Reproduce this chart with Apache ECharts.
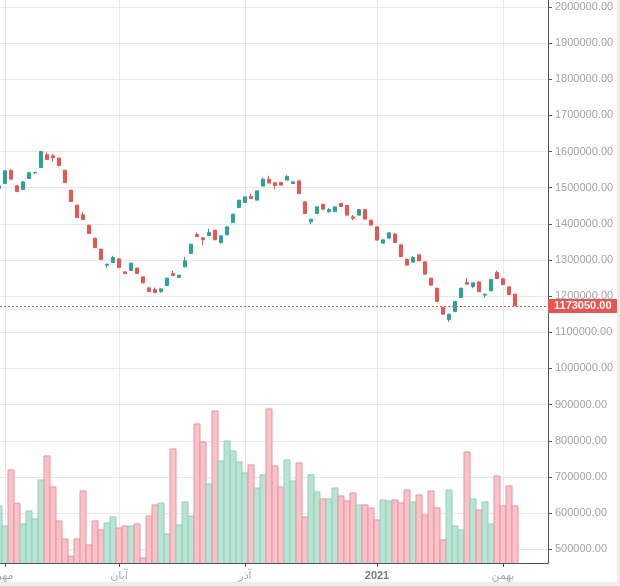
<!DOCTYPE html>
<html><head><meta charset="utf-8">
<script src="https://cdn.jsdelivr.net/npm/echarts@6/dist/echarts.min.js"></script>
<style>
html,body{margin:0;padding:0;background:#ededed;}
#chart{width:617px;height:582px;background:#fff;}
</style></head><body><div id="chart"></div>
<script>
// day k = -1 .. 85
const openP = [1498000,1511500,1548500,1505100,1494900,1525300,1541500,1555700,1590800,1588000,1581700,1548500,1493200,1451700,1424800,1396400,1360400,1330000,1285700,1293000,1303200,1267200,1270800,1277800,1253400,1223000,1218300,1212700,1229300,1262500,1251500,1281000,1318100,1370400,1361200,1367700,1382600,1348300,1369600,1403600,1445000,1458900,1475500,1465500,1504300,1523600,1513400,1514200,1520900,1511500,1518900,1460800,1405500,1428500,1453400,1434000,1434000,1456400,1450900,1419300,1424100,1439500,1410200,1391700,1346600,1360400,1372000,1341900,1302300,1294000,1314200,1294900,1249800,1222200,1168500,1135300,1157400,1196100,1237600,1226500,1239500,1202800,1214700,1265300,1247800,1225700,1205500];
const closeP = [1505000,1546600,1523600,1489300,1516200,1541000,1542500,1600000,1577900,1583400,1561200,1514200,1461700,1417400,1411800,1373200,1334400,1301200,1288500,1306800,1279100,1262500,1291300,1262500,1236800,1212700,1210000,1220200,1249800,1257000,1258100,1297600,1343800,1364900,1356600,1375900,1355800,1366800,1391700,1426800,1465500,1474700,1470000,1491200,1523600,1512600,1506300,1507000,1531200,1516200,1483800,1428500,1413000,1447000,1440600,1439500,1447000,1448100,1424100,1415700,1439500,1413000,1396400,1355000,1355800,1375100,1348300,1309500,1285700,1306800,1297600,1260800,1230400,1185100,1150200,1150200,1185100,1222200,1233200,1236800,1212700,1205500,1245900,1248700,1232100,1204400,1173050];
const lowP = [1496000,1510000,1522000,1488000,1494000,1525300,1537500,1555700,1577900,1572300,1561200,1514200,1461700,1417400,1411800,1373200,1334400,1301200,1279000,1293000,1279100,1262500,1270800,1262500,1236800,1212700,1210000,1209100,1229300,1257000,1251500,1281000,1318100,1364900,1341100,1367700,1355800,1345500,1369600,1403600,1445000,1458900,1470000,1465500,1504300,1512600,1495200,1507000,1520900,1511500,1483800,1428500,1399200,1428500,1440600,1430400,1434000,1448100,1424100,1410200,1424100,1413000,1396400,1355000,1346600,1360400,1348300,1309500,1285700,1294000,1297600,1260800,1230400,1185100,1150200,1128900,1157400,1196100,1233200,1222000,1212700,1196100,1214700,1248700,1232100,1204400,1173050];
const highP = [1507000,1548000,1549500,1506000,1517000,1543800,1542500,1601500,1596400,1592800,1583500,1548500,1493200,1451700,1432300,1396400,1360400,1330000,1288500,1311500,1303200,1267200,1291300,1277800,1253400,1223000,1223800,1220200,1249800,1270000,1258100,1308700,1343800,1375900,1361200,1386100,1382600,1366800,1391700,1426800,1465500,1474700,1483000,1491200,1528100,1532800,1513400,1514200,1534800,1516200,1518900,1460800,1413000,1447000,1456400,1443400,1447000,1456400,1450900,1424800,1439500,1439500,1410200,1391700,1355800,1375100,1372000,1341900,1302300,1311500,1314200,1294900,1249800,1222200,1168500,1150200,1185100,1222200,1249800,1236800,1239500,1205500,1245900,1270800,1250600,1225700,1205500];
const volume = [619800,564400,719300,627200,570000,606000,583800,691600,758100,672300,578300,528500,481000,528500,661300,511900,578300,553400,572800,589400,558900,564400,564400,570000,476000,592100,622500,628000,542300,777400,567200,630800,592100,846600,796800,680600,882600,744300,799600,771900,741500,711000,733200,669500,705500,888100,730400,672300,747000,688900,738700,589400,705500,658500,639100,639100,669500,647400,633600,655700,622500,622500,614200,581000,636400,633600,636400,628000,664000,630800,650200,594900,661300,614200,525700,664000,564400,553400,769100,639100,608700,630800,570000,702700,619800,675100,619800];
const monthTicks = [0, 19, 40, 62, 83];
const monthLabels = ['مهر', 'آبان', 'آذر', '2021', 'بهمن'];
const priceTicks = [500000,600000,700000,800000,900000,1000000,1100000,1200000,1300000,1400000,1500000,1600000,1700000,1800000,1900000,2000000];
const lastPrice = 1173050;

const UP = '#26a69a', DOWN = '#ef5350';
const candleData = openP.map((o, i) => [i - 1, o, closeP[i], lowP[i], highP[i]]);
const volData = volume.map((v, i) => [i - 1, v]);

const chart = echarts.init(document.getElementById('chart'), null, { renderer: 'canvas' });
chart.setOption({
  animation: false,
  grid: { left: 0, right: 69, top: 0, bottom: 19, outerBoundsMode: 'none', containLabel: false },
  xAxis: {
    type: 'value', min: -5 / 6, max: 90.5,
    axisLine: { show: true, onZero: false, lineStyle: { color: '#50535e' } },
    axisTick: { show: true, customValues: monthTicks, length: 4, lineStyle: { color: '#50535e' } },
    axisLabel: {
      customValues: monthTicks, fontSize: 11, color: '#a8a8a8', margin: 7,
      fontFamily: 'Arial, "Liberation Sans", "DejaVu Sans", sans-serif',
      formatter: v => { const i = monthTicks.indexOf(Math.round(v)); const t = monthLabels[i] || ''; return /^\d+$/.test(t) ? '{y|' + t + '}' : t; },
      rich: { y: { fontWeight: 'bold', color: '#7a7a7a', fontSize: 11, fontFamily: 'Arial, "Liberation Sans", sans-serif' } }
    },
    splitLine: { show: true, lineStyle: { color: '#e8e8e8', width: 1 } }
  },
  yAxis: {
    type: 'value', position: 'right', min: 462000, max: 2019000,
    axisLine: { show: true, onZero: false, lineStyle: { color: '#50535e' } },
    axisTick: { show: true, customValues: priceTicks, length: 4, lineStyle: { color: '#50535e' } },
    axisLabel: {
      customValues: priceTicks, fontSize: 11, color: '#a3a3a3', margin: 7,
      fontFamily: 'Arial, "Liberation Sans", sans-serif',
      formatter: v => v.toFixed(2)
    },
    splitLine: { show: true, lineStyle: { color: '#e8e8e8', width: 1 } }
  },
  series: [
    {
      type: 'custom', data: volData, z: 1, clip: true,
      encode: { x: 0, y: 1 },
      renderItem: (params, api) => {
        const i = params.dataIndex;
        const x = api.value(0), v = api.value(1);
        const top = api.coord([x, v]);
        const w = api.size([1, 0])[0];
        const cs = params.coordSys;
        const bottom = cs.y + cs.height + 1;
        const up = closeP[i] >= openP[i];
        return {
          type: 'rect',
          shape: { x: top[0] - w / 2, y: top[1], width: w, height: bottom - top[1] },
          style: { fill: up ? '#b9e4d3' : '#f9c1c8', stroke: up ? '#90d2b9' : '#ea959f', lineWidth: 1 }
        };
      }
    },
    {
      type: 'candlestick', data: candleData, barWidth: 4, z: 3, clip: true,
      encode: { x: 0, y: [1, 2, 3, 4] },
      itemStyle: { color: UP, color0: DOWN, borderColor: UP, borderColor0: DOWN, borderWidth: 1 },
      markLine: {
        silent: true, symbol: ['none', 'none'], animation: false,
        data: [{ yAxis: lastPrice }],
        lineStyle: { color: DOWN, type: [2, 2], width: 1 },
        emphasis: { disabled: true },
        label: {
          position: 'end', distance: 0, formatter: lastPrice.toFixed(2),
          backgroundColor: DOWN, color: '#fff', fontWeight: 'bold', fontSize: 11,
          fontFamily: 'Arial, "Liberation Sans", sans-serif', padding: [2, 6, 1, 6]
        }
      }
    }
  ]
});
</script></body></html>
